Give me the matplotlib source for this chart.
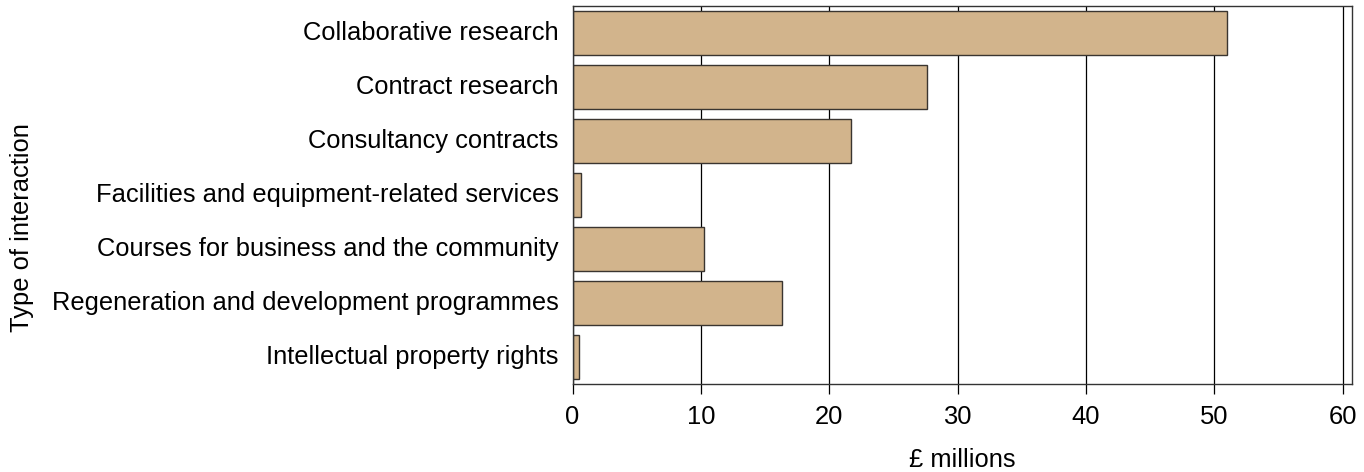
import matplotlib
matplotlib.use("Agg")
import matplotlib.pyplot as plt
import matplotlib.transforms as mtransforms

categories = ["Collaborative research", "Contract research", "Consultancy contracts",
              "Facilities and equipment-related services", "Courses for business and the community",
              "Regeneration and development programmes", "Intellectual property rights"]
values = [51.0, 27.6, 21.7, 0.65, 10.25, 16.3, 0.52]
xticks = [0, 10, 20, 30, 40, 50, 60]

plt.rcParams['font.family'] = ['Liberation Sans', 'DejaVu Sans']
FS = 18.4

fig = plt.figure(figsize=(13.64, 4.72), dpi=100)
W = (1351.5 - 572.5)
H = (384 - 6)
ax = fig.add_axes([572.5/1364, 1 - 384/472, W/1364, H/472])

ypos = list(range(len(categories)))
ax.set_axisbelow(True)
ax.grid(axis='x', color='black', linewidth=0.9)
ax.barh(ypos, values, height=0.8, color='#D2B48C', edgecolor='#3a3530', linewidth=1.0)
ax.set_ylim(len(categories) - 0.5, -0.5)
ax.set_xlim(0, 60.7)
ax.set_yticks(ypos)
ax.set_yticklabels(categories, fontsize=FS)
ax.set_xticks(xticks)
ax.set_xticklabels([str(t) for t in xticks], fontsize=FS)
ax.tick_params(axis='y', length=0, pad=10)
ax.tick_params(axis='x', length=7, width=0.9, pad=8)
offset = mtransforms.ScaledTranslation(0, 3 / 100, fig.dpi_scale_trans)
for tick in ax.yaxis.get_major_ticks():
    tick.label1.set_transform(tick.label1.get_transform() + offset)
for s in ax.spines.values():
    s.set_color('#333333')
    s.set_linewidth(1.0)
ax.set_xlabel("£ millions", fontsize=FS)
ax.xaxis.set_label_coords(0.5, -(448 - 384) / H)
ax.set_ylabel("Type of interaction", fontsize=FS)
ax.yaxis.set_label_coords(-(572.5 - 34) / W, 1 - (228 - 6) / H)
fig.savefig("out.png", dpi=100)
